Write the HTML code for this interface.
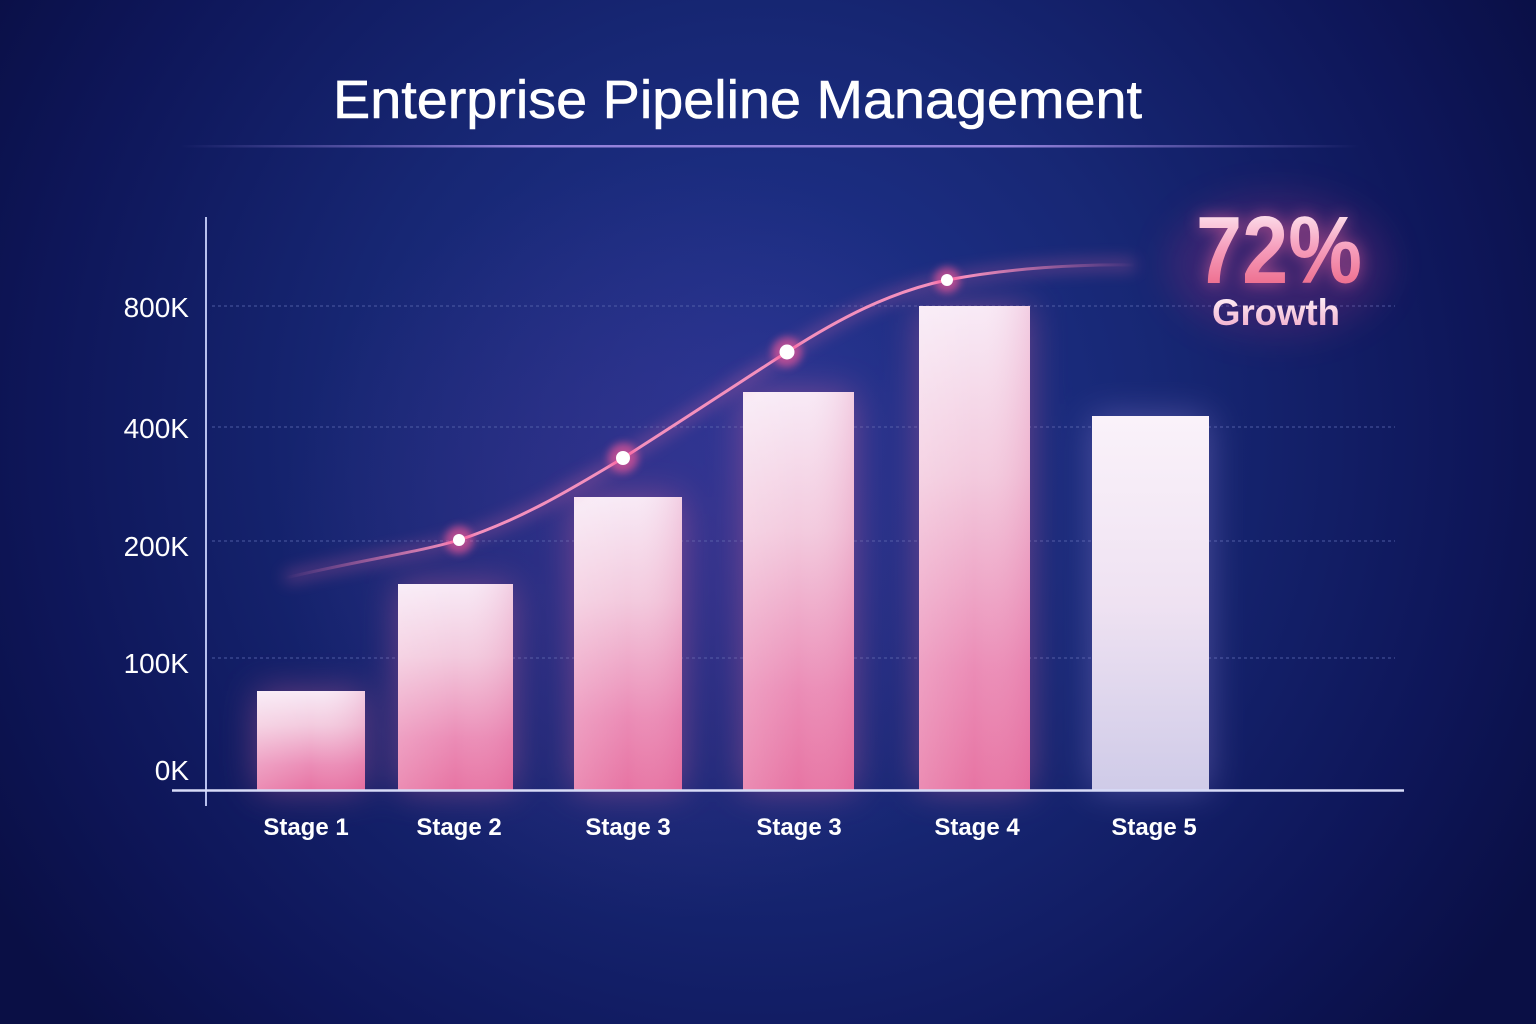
<!DOCTYPE html>
<html><head><meta charset="utf-8">
<style>
html,body{margin:0;padding:0;width:1536px;height:1024px;overflow:hidden;background:#0c1150;}
svg{display:block}
</style></head>
<body>
<svg width="1536" height="1024" viewBox="0 0 1536 1024" xmlns="http://www.w3.org/2000/svg">
<defs>
  <radialGradient id="bg" cx="760" cy="430" r="900" gradientUnits="userSpaceOnUse">
    <stop offset="0" stop-color="#213592"/>
    <stop offset="0.45" stop-color="#172774"/>
    <stop offset="0.8" stop-color="#0e1659"/>
    <stop offset="1" stop-color="#0a0f45"/>
  </radialGradient>
  <radialGradient id="purp" cx="660" cy="540" r="380" gradientUnits="userSpaceOnUse">
    <stop offset="0" stop-color="#6a3a9a" stop-opacity="0.3"/>
    <stop offset="1" stop-color="#6a3a9a" stop-opacity="0"/>
  </radialGradient>
  <linearGradient id="barPink" x1="0" y1="0" x2="0" y2="1">
    <stop offset="0" stop-color="#f8eaf6"/>
    <stop offset="0.35" stop-color="#f3cade"/>
    <stop offset="0.75" stop-color="#eb8cb6"/>
    <stop offset="1" stop-color="#e774a3"/>
  </linearGradient>
  <linearGradient id="barSide" x1="0" y1="0" x2="1" y2="0">
    <stop offset="0" stop-color="#ffffff" stop-opacity="0.18"/>
    <stop offset="0.5" stop-color="#ffffff" stop-opacity="0"/>
    <stop offset="1" stop-color="#d84a88" stop-opacity="0.18"/>
  </linearGradient>
  <linearGradient id="barLav" x1="0" y1="0" x2="0" y2="1">
    <stop offset="0" stop-color="#faf2fa"/>
    <stop offset="0.5" stop-color="#efe2f2"/>
    <stop offset="1" stop-color="#cfcbe8"/>
  </linearGradient>
  <linearGradient id="uline" x1="0" y1="0" x2="1" y2="0">
    <stop offset="0" stop-color="#9a86e0" stop-opacity="0"/>
    <stop offset="0.3" stop-color="#9a86e0" stop-opacity="0.95"/>
    <stop offset="0.7" stop-color="#9a86e0" stop-opacity="0.95"/>
    <stop offset="1" stop-color="#9a86e0" stop-opacity="0"/>
  </linearGradient>
  <linearGradient id="curveG" x1="285" y1="0" x2="1135" y2="0" gradientUnits="userSpaceOnUse">
    <stop offset="0" stop-color="#f07aae" stop-opacity="0"/>
    <stop offset="0.2" stop-color="#f490bd" stop-opacity="1"/>
    <stop offset="0.8" stop-color="#f490bd" stop-opacity="1"/>
    <stop offset="1" stop-color="#f07aae" stop-opacity="0"/>
  </linearGradient>
  <linearGradient id="pctG" x1="0" y1="210" x2="0" y2="284" gradientUnits="userSpaceOnUse">
    <stop offset="0" stop-color="#fde6f0"/>
    <stop offset="0.5" stop-color="#f6a0be"/>
    <stop offset="1" stop-color="#ee7090"/>
  </linearGradient>
  <linearGradient id="grG" x1="0" y1="295" x2="0" y2="326" gradientUnits="userSpaceOnUse">
    <stop offset="0" stop-color="#fff2f8"/>
    <stop offset="1" stop-color="#f2b4d0"/>
  </linearGradient>
  <filter id="blur20" x="-50%" y="-50%" width="200%" height="200%"><feGaussianBlur stdDeviation="18"/></filter>
  <filter id="blur8" x="-50%" y="-50%" width="200%" height="200%"><feGaussianBlur stdDeviation="8"/></filter>
  <filter id="blur4" x="-50%" y="-50%" width="200%" height="200%"><feGaussianBlur stdDeviation="4"/></filter>
</defs>

<rect width="1536" height="1024" fill="url(#bg)"/>
<rect width="1536" height="1024" fill="url(#purp)"/>

<!-- Title -->
<text x="333" y="118" font-family="Liberation Sans, sans-serif" font-size="54" fill="#ffffff" stroke="#ffffff" stroke-width="0.6" textLength="809" lengthAdjust="spacingAndGlyphs">Enterprise Pipeline Management</text>
<rect x="180" y="145" width="1180" height="2.5" fill="url(#uline)"/>

<!-- gridlines -->
<g stroke="#5a68b0" stroke-width="1.5" stroke-dasharray="3 3" opacity="0.55">
  <line x1="212" y1="306" x2="1395" y2="306"/>
  <line x1="212" y1="427" x2="1395" y2="427"/>
  <line x1="212" y1="541" x2="1395" y2="541"/>
  <line x1="212" y1="658" x2="1395" y2="658"/>
</g>

<!-- bar glows -->
<g filter="url(#blur20)" opacity="0.45">
  <rect x="257" y="691" width="108" height="99" fill="#d0609a"/>
  <rect x="398" y="584" width="115" height="206" fill="#d0609a"/>
  <rect x="574" y="497" width="108" height="293" fill="#d0609a"/>
  <rect x="743" y="392" width="111" height="398" fill="#d0609a"/>
  <rect x="919" y="306" width="111" height="484" fill="#d0609a"/>
  <rect x="1092" y="416" width="117" height="374" fill="#9080d0"/>
</g>

<!-- bars -->
<g>
  <rect x="257" y="691" width="108" height="99" fill="url(#barPink)"/>
  <rect x="257" y="691" width="108" height="99" fill="url(#barSide)"/>
  <rect x="398" y="584" width="115" height="206" fill="url(#barPink)"/>
  <rect x="398" y="584" width="115" height="206" fill="url(#barSide)"/>
  <rect x="574" y="497" width="108" height="293" fill="url(#barPink)"/>
  <rect x="574" y="497" width="108" height="293" fill="url(#barSide)"/>
  <rect x="743" y="392" width="111" height="398" fill="url(#barPink)"/>
  <rect x="743" y="392" width="111" height="398" fill="url(#barSide)"/>
  <rect x="919" y="306" width="111" height="484" fill="url(#barPink)"/>
  <rect x="919" y="306" width="111" height="484" fill="url(#barSide)"/>
  <rect x="1092" y="416" width="117" height="374" fill="url(#barLav)"/>
</g>

<!-- axes -->
<line x1="206" y1="217" x2="206" y2="806" stroke="#b8c0ee" stroke-width="2"/>
<line x1="172" y1="790.5" x2="1404" y2="790.5" stroke="#d8dcf8" stroke-width="2.5"/>

<!-- y labels -->
<g font-family="Liberation Sans, sans-serif" font-size="28" fill="#ffffff" text-anchor="end">
  <text x="189" y="317">800K</text>
  <text x="189" y="438">400K</text>
  <text x="189" y="556">200K</text>
  <text x="189" y="673">100K</text>
  <text x="189" y="780">0K</text>
</g>

<!-- x labels -->
<g font-family="Liberation Sans, sans-serif" font-size="24" font-weight="bold" fill="#ffffff" text-anchor="middle">
  <text x="306" y="835">Stage 1</text>
  <text x="459" y="835">Stage 2</text>
  <text x="628" y="835">Stage 3</text>
  <text x="799" y="835">Stage 3</text>
  <text x="977" y="835">Stage 4</text>
  <text x="1154" y="835">Stage 5</text>
</g>

<!-- curve -->
<path d="M285,578 C360,560 420,552 459,540 C520,520 570,490 623,458 C680,422 740,382 787,352 C840,318 890,292 947,280 C1010,268 1080,264 1135,265" fill="none" stroke="#f06aa8" stroke-width="10" opacity="0.35" filter="url(#blur8)"/>
<path d="M285,578 C360,560 420,552 459,540 C520,520 570,490 623,458 C680,422 740,382 787,352 C840,318 890,292 947,280 C1010,268 1080,264 1135,265" fill="none" stroke="url(#curveG)" stroke-width="3"/>

<!-- points -->
<g>
  <circle cx="459" cy="540" r="14" fill="#ff5a9a" opacity="0.6" filter="url(#blur4)"/>
  <circle cx="459" cy="540" r="6" fill="#ffffff"/>
  <circle cx="623" cy="458" r="15" fill="#ff5a9a" opacity="0.6" filter="url(#blur4)"/>
  <circle cx="623" cy="458" r="7" fill="#ffffff"/>
  <circle cx="787" cy="352" r="15" fill="#ff5a9a" opacity="0.6" filter="url(#blur4)"/>
  <circle cx="787" cy="352" r="7.5" fill="#ffffff"/>
  <circle cx="947" cy="280" r="13" fill="#ff5a9a" opacity="0.6" filter="url(#blur4)"/>
  <circle cx="947" cy="280" r="6" fill="#ffffff"/>
</g>

<!-- 72% Growth -->
<ellipse cx="1278" cy="265" rx="110" ry="70" fill="#8a2a7a" opacity="0.3" filter="url(#blur20)"/>
<text x="1196" y="283" font-family="Liberation Sans, sans-serif" font-size="96" font-weight="bold" fill="#ff6aa0" opacity="0.6" textLength="166" lengthAdjust="spacingAndGlyphs" filter="url(#blur8)">72%</text>
<text x="1196" y="283" font-family="Liberation Sans, sans-serif" font-size="96" font-weight="bold" fill="url(#pctG)" textLength="166" lengthAdjust="spacingAndGlyphs">72%</text>
<text x="1212" y="325" font-family="Liberation Sans, sans-serif" font-size="37" font-weight="bold" fill="url(#grG)" textLength="128" lengthAdjust="spacingAndGlyphs">Growth</text>
</svg>
</body></html>
